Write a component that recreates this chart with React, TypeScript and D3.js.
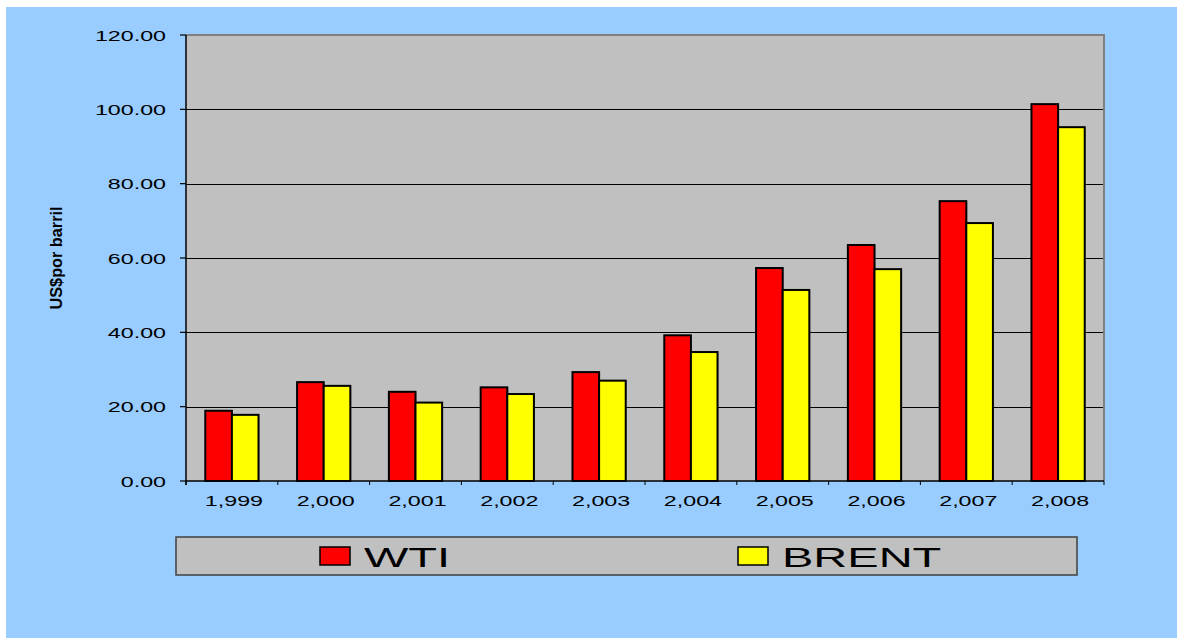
import React from "react";
import * as d3 from "d3";

const years = ["1,999", "2,000", "2,001", "2,002", "2,003", "2,004", "2,005", "2,006", "2,007", "2,008"];
const wti = [18.9, 26.6, 24.0, 25.2, 29.3, 39.2, 57.3, 63.5, 75.3, 101.4];
const brent = [17.8, 25.6, 21.1, 23.4, 27.0, 34.7, 51.4, 57.0, 69.4, 95.2];
const yTicks = [0, 20, 40, 60, 80, 100, 120];
const seriesNames = ["WTI", "BRENT"];
const seriesColors = ["#FF0000", "#FFFF00"];

const W = 1177;
const H = 639;
const plot = { left: 186, right: 1104, top: 35, bottom: 481 };
const SX = 1.55;

export default function App() {
  const x = d3.scaleBand<string>().domain(years).range([plot.left, plot.right]).paddingInner(0).paddingOuter(0);
  const y = d3.scaleLinear().domain([0, 120]).range([plot.bottom, plot.top]);
  const bw = x.bandwidth() * 0.29;
  const series = [wti, brent];
  const font = "'Liberation Sans', Arial, sans-serif";

  return (
    <svg width={W} height={H} style={{ position: "absolute", left: 0, top: 0 }}>
      <rect x={0} y={0} width={W} height={H} fill="#ffffff" />
      <rect x={6} y={7} width={W - 6} height={631} fill="#99CCFF" />
      {/* plot area */}
      <rect x={plot.left} y={plot.top} width={plot.right - plot.left} height={plot.bottom - plot.top} fill="#C0C0C0" />
      {yTicks.filter((t) => t > 0 && t < 120).map((t) => (
        <line key={t} x1={plot.left} x2={plot.right} y1={Math.round(y(t)) + 0.5} y2={Math.round(y(t)) + 0.5} stroke="#000" strokeWidth={1} />
      ))}
      {/* gray border top/right */}
      <path d={`M${plot.left},${plot.top} H${plot.right} V${plot.bottom}`} fill="none" stroke="#808080" strokeWidth={2} />
      {/* bars */}
      {years.map((yr, i) => {
        const cx = (x(yr) as number) + x.bandwidth() / 2;
        return series.map((s, j) => {
          const bx = cx - bw + j * bw;
          return (
            <g key={yr + j}>
              <rect x={bx + 1} y={y(s[i]) + 1} width={bw} height={plot.bottom - y(s[i])} fill="#808080" opacity={0.5} />
              <rect x={bx} y={y(s[i])} width={bw} height={plot.bottom - y(s[i])} fill={seriesColors[j]} stroke="#000" strokeWidth={2} />
            </g>
          );
        });
      })}
      {/* axes */}
      <line x1={plot.left} x2={plot.left} y1={plot.top} y2={plot.bottom + 4} stroke="#000" strokeWidth={1.5} />
      <line x1={plot.left} x2={plot.right} y1={plot.bottom} y2={plot.bottom} stroke="#000" strokeWidth={1.5} />
      {yTicks.map((t) => (
        <g key={"yt" + t}>
          <line x1={plot.left - 6} x2={plot.left} y1={y(t)} y2={y(t)} stroke="#000" strokeWidth={1.2} />
          <text transform={`translate(166,${y(t) + 5.5}) scale(${SX},1)`} textAnchor="end" fontFamily={font} fontSize={15} fill="#000">
            {t.toFixed(2)}
          </text>
        </g>
      ))}
      {years.map((yr, i) => (
        <line key={"xt" + i} x1={x(yr) as number} x2={x(yr) as number} y1={plot.bottom} y2={plot.bottom + 4} stroke="#000" strokeWidth={1} />
      ))}
      <line x1={plot.right} x2={plot.right} y1={plot.bottom} y2={plot.bottom + 4} stroke="#000" strokeWidth={1} />
      {years.map((yr) => (
        <text key={"xl" + yr} transform={`translate(${(x(yr) as number) + x.bandwidth() / 2 + 2},506) scale(${SX},1)`} textAnchor="middle" fontFamily={font} fontSize={15} fill="#000">
          {yr}
        </text>
      ))}
      {/* y title */}
      <text transform={`translate(62,258) scale(1.45,1) rotate(-90)`} textAnchor="middle" fontFamily={font} fontSize={11} fontWeight="bold" textLength={103} lengthAdjust="spacingAndGlyphs" fill="#000">
        US$por barril
      </text>
      {/* legend */}
      <rect x={176} y={537} width={901} height={38} fill="#C0C0C0" stroke="#404040" strokeWidth={1.5} />
      {seriesNames.map((n, j) => {
        const sx = [320, 738][j];
        return (
          <g key={n}>
            <rect x={sx} y={547} width={30} height={18} fill={seriesColors[j]} stroke="#000" strokeWidth={1.5} />
            <text transform={`translate(${sx + 44},566.5) scale(1.68,1)`} fontFamily={font} fontSize={28} fill="#000">
              {n}
            </text>
          </g>
        );
      })}
    </svg>
  );
}
